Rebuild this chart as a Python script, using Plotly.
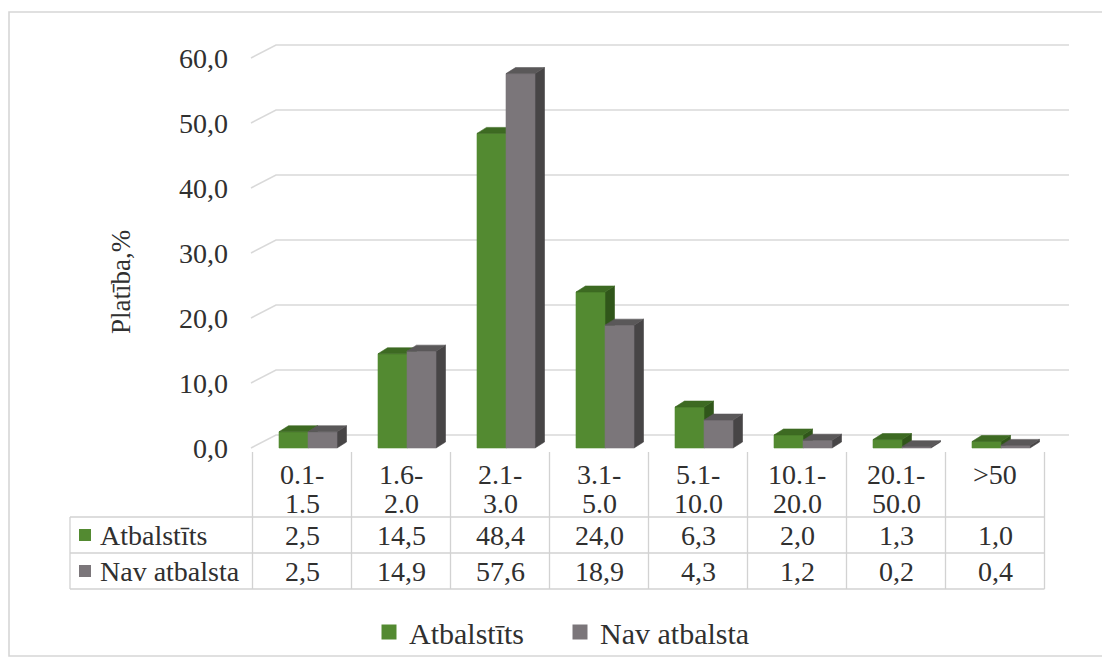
import plotly.graph_objects as go

# ---- data -------------------------------------------------------------
categories = ["0.1-1.5", "1.6-2.0", "2.1-3.0", "3.1-5.0",
              "5.1-10.0", "10.1-20.0", "20.1-50.0", ">50"]
atbalstits = [2.5, 14.5, 48.4, 24.0, 6.3, 2.0, 1.3, 1.0]
nav_atbalsta = [2.5, 14.9, 57.6, 18.9, 4.3, 1.2, 0.2, 0.4]
series_names = ["Atbalstīts", "Nav atbalsta"]
y_ticks = [0, 10, 20, 30, 40, 50, 60]
axis_title = "Platība,%"

# ---- geometry (figure pixels -> axis units) ---------------------------
W, H = 1102, 660
COL_PX = 99.0        # width of one category column
X_CENTER0 = 302.0    # pixel centre of the first category
UNIT_PX = 6.5        # pixels per 1 %
Y_ZERO = 448.0       # pixel row of the value 0


def xd(px):
    return (px - X_CENTER0) / COL_PX


def yd(py):
    return (Y_ZERO - py) / UNIT_PX


def dxp(px):
    return px / COL_PX


def dyp(px):
    return px / UNIT_PX


BAR_W = dxp(29)      # width of one bar
SHIFT = dxp(6)       # pair offset from column centre
DEP_X = dxp(9.5)     # bar depth (horizontal)
DEP_Y = dyp(6)       # bar depth (vertical)
WALL_X = dxp(25)     # back wall offset
WALL_Y = dyp(13)

GREEN = dict(front="#538a31", top="#3d6a22", side="#30561a")
GREY = dict(front="#7b767a", top="#5a5859", side="#474546")
GRID = "#d9d9d9"
TABLE_LINE = "#d2d2d2"
TEXT = "#303030"
FONT = "Liberation Serif"
FS = 28

fig = go.Figure()

# ---- back wall gridlines and side-wall diagonals ----------------------
gx, gy = [], []
for v in y_ticks:
    gx += [xd(251), xd(251) + WALL_X, xd(1069), None]
    gy += [v, v + WALL_Y, v + WALL_Y, None]
fig.add_trace(go.Scatter(x=gx, y=gy, mode="lines",
                         line=dict(color=GRID, width=1.6),
                         hoverinfo="skip", showlegend=False))


# ---- pseudo-3D bars ----------------------------------------------------
def bar_faces(values, k):
    fx, fy, tx, ty, sx, sy = [], [], [], [], [], []
    for i, v in enumerate(values):
        x0 = i + SHIFT + (k - 1) * BAR_W
        x1 = x0 + BAR_W
        fx += [x0, x1, x1, x0, x0, None]
        fy += [0, 0, v, v, 0, None]
        tx += [x0, x1, x1 + DEP_X, x0 + DEP_X, x0, None]
        ty += [v, v, v + DEP_Y, v + DEP_Y, v, None]
        sx += [x1, x1 + DEP_X, x1 + DEP_X, x1, x1, None]
        sy += [0, DEP_Y, v + DEP_Y, v, 0, None]
    return (fx, fy), (tx, ty), (sx, sy)


for k, (vals, pal) in enumerate([(atbalstits, GREEN), (nav_atbalsta, GREY)]):
    front, top, side = bar_faces(vals, k)
    for (px, py), col in [(side, pal["side"]), (front, pal["front"]), (top, pal["top"])]:
        fig.add_trace(go.Scatter(x=px, y=py, mode="lines", fill="toself",
                                 fillcolor=col, line=dict(color=col, width=0.6),
                                 hoverinfo="skip", showlegend=False))

# ---- data table --------------------------------------------------------
shapes = []
n = len(categories)
for kx in range(n + 1):
    shapes.append(dict(type="line", xref="x", yref="y",
                       x0=-0.5 + kx, x1=-0.5 + kx, y0=yd(452), y1=yd(589),
                       line=dict(color=TABLE_LINE, width=1.3)))
for row_px in (517, 553, 589):
    shapes.append(dict(type="line", xref="x", yref="y",
                       x0=xd(70), x1=-0.5 + n, y0=yd(row_px), y1=yd(row_px),
                       line=dict(color=TABLE_LINE, width=1.3)))
shapes.append(dict(type="line", xref="x", yref="y",
                   x0=xd(70), x1=xd(70), y0=yd(517), y1=yd(589),
                   line=dict(color=TABLE_LINE, width=1.3)))
# outer chart frame
shapes.append(dict(type="rect", xref="paper", yref="paper",
                   x0=9 / W, x1=1.05, y0=1 - 656 / H, y1=1 - 12 / H,
                   line=dict(color="#d6d6d6", width=1.6), layer="below"))

annotations = []
for i, cat in enumerate(categories):
    if "-" in cat:
        a, b = cat.split("-", 1)
        lines = [a + "-", b]
    else:
        lines = [cat]
    for j, line in enumerate(lines):
        annotations.append(dict(x=i, y=yd(474 + 29 * j), xref="x", yref="y",
                                text=line, showarrow=False,
                                font=dict(size=FS, color=TEXT, family=FONT)))


def fmt(v):
    return f"{v:.1f}".replace(".", ",")


for vals, row_px in [(atbalstits, 535), (nav_atbalsta, 571)]:
    for i, v in enumerate(vals):
        annotations.append(dict(x=i, y=yd(row_px), xref="x", yref="y",
                                text=fmt(v), showarrow=False,
                                font=dict(size=FS, color=TEXT, family=FONT)))

for name, row_px, col in [(series_names[0], 535, GREEN["front"]),
                          (series_names[1], 571, GREY["front"])]:
    fig.add_trace(go.Scatter(x=[xd(85)], y=[yd(row_px)], mode="markers",
                             marker=dict(symbol="square", size=12, color=col),
                             hoverinfo="skip", showlegend=False))
    annotations.append(dict(x=xd(98), y=yd(row_px), xref="x", yref="y",
                            text=name, showarrow=False, xanchor="left",
                            font=dict(size=FS, color=TEXT, family=FONT)))

# axis title
annotations.append(dict(x=xd(121), y=yd(282), xref="x", yref="y",
                        text=axis_title, textangle=-90, showarrow=False,
                        font=dict(size=27, color=TEXT, family=FONT)))

# ---- legend entries -----------------------------------------------------
for name, col in [(series_names[0], GREEN["front"]), (series_names[1], GREY["front"])]:
    fig.add_trace(go.Scatter(x=[None], y=[None], mode="markers", name=name,
                             marker=dict(symbol="square", size=15, color=col)))

fig.update_layout(
    width=W, height=H,
    margin=dict(l=0, r=0, t=0, b=0),
    paper_bgcolor="white", plot_bgcolor="white",
    separators=", ",
    font=dict(family=FONT, size=FS, color=TEXT),
    shapes=shapes, annotations=annotations,
    showlegend=True,
    legend=dict(orientation="h", x=369 / W, xanchor="left",
                y=1 - 632 / H, yanchor="middle",
                entrywidth=146, entrywidthmode="pixels",
                font=dict(size=30, color=TEXT, family=FONT),
                bgcolor="rgba(0,0,0,0)"),
    xaxis=dict(range=[xd(0), xd(W)], visible=False, fixedrange=True),
    yaxis=dict(range=[yd(H), yd(0)], anchor="free", position=252 / W,
               tickmode="array", tickvals=y_ticks, tickformat=".1f",
               showgrid=False, zeroline=False, showline=False, ticks="",
               ticklabelstandoff=24,
               tickfont=dict(size=28, color=TEXT, family=FONT),
               fixedrange=True),
)

fig.write_html("out.html")
